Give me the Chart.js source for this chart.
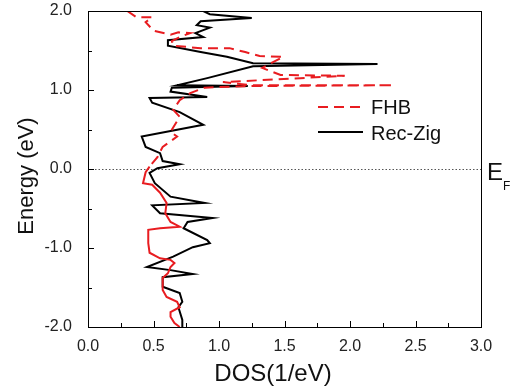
<!DOCTYPE html>
<html>
<head>
<meta charset="utf-8">
<script src="https://cdn.jsdelivr.net/npm/chart.js@4"></script>
<style>
  body { margin: 0; background: #fff; }
  #wrap { width: 517px; height: 390px; position: relative; }
</style>
</head>
<body>
<div id="wrap"><canvas id="chart"></canvas></div>
<script>
'use strict';

// values (energy in eV, DOS in 1/eV)
const fhbEnergy = [2.0, 1.92, 1.92, 1.86, 1.75, 1.70, 1.73, 1.72, 1.67, 1.62, 1.56, 1.53, 1.53, 1.48, 1.43,
  1.42, 1.28, 1.19, 1.18, 1.15, 1.10, 1.06, 1.06, 1.05, 1.03, 0.96, 0.87, 0.75, 0.66, 0.47,
  0.41, 0.28, 0.15, 0.03, -0.04, -0.18, -0.20, -0.30, -0.43, -0.56, -0.67, -0.73, -0.75, -0.77, -0.94,
  -1.06, -1.13, -1.15, -1.19, -1.24, -1.32, -1.38, -1.53, -1.62, -1.68, -1.75, -1.81, -1.87, -1.95, -2.0];
const fhbDos = [0.30, 0.37, 0.49, 0.44, 0.50, 0.63, 0.69, 0.78, 0.70, 0.64, 0.65, 0.86, 1.08, 1.20, 1.31,
  1.49, 1.33, 1.47, 1.96, 1.62, 1.03, 1.24, 2.33, 1.24, 0.89, 0.78, 0.70, 0.65, 0.70, 0.63,
  0.68, 0.57, 0.53, 0.47, 0.44, 0.42, 0.49, 0.55, 0.60, 0.59, 0.63, 0.70, 0.55, 0.46, 0.46,
  0.47, 0.55, 0.63, 0.66, 0.63, 0.61, 0.57, 0.57, 0.60, 0.68, 0.70, 0.63, 0.63, 0.66, 0.70];

const recZigEnergy = [2.0, 1.96, 1.91, 1.87, 1.82, 1.79, 1.72, 1.67, 1.63, 1.56, 1.48, 1.42, 1.34, 1.33, 1.30,
  1.15, 1.06, 1.05, 1.03, 0.98, 0.91, 0.90, 0.84, 0.72, 0.56, 0.41, 0.28, 0.20, 0.10, 0.06,
  0.01, -0.05, -0.18, -0.35, -0.43, -0.46, -0.56, -0.62, -0.67, -0.75, -0.90, -0.94, -0.99, -1.11, -1.24,
  -1.28, -1.33, -1.37, -1.49, -1.57, -1.68, -1.75, -1.91, -2.0];
const recZigDos = [0.88, 0.93, 1.25, 0.86, 0.83, 0.93, 0.82, 0.88, 0.61, 0.61, 0.86, 1.06, 1.26, 2.21, 1.26,
  0.91, 0.68, 1.22, 0.64, 0.63, 0.91, 0.47, 0.49, 0.70, 0.88, 0.41, 0.44, 0.55, 0.57, 0.70,
  0.53, 0.47, 0.51, 0.63, 0.89, 0.49, 0.55, 0.95, 0.76, 0.73, 0.91, 0.93, 0.80, 0.65, 0.45,
  0.63, 0.80, 0.57, 0.57, 0.70, 0.72, 0.69, 0.72, 0.72];

const xTickValues = [0, 0.5, 1.0, 1.5, 2.0, 2.5, 3.0];
const yTickValues = [-2, -1, 0, 1, 2];

const RED = 'rgb(232, 28, 32)';
const FONT = 'Liberation Sans, Arial, sans-serif';

function toPoints(xs, ys) {
  return xs.map((x, i) => ({ x: x, y: ys[i] }));
}

// frame, inward ticks, Fermi line, legend and titles
const decorations = {
  id: 'decorations',
  beforeDatasetsDraw(chart) {
    const { ctx, chartArea: a, scales: { y } } = chart;
    const y0 = y.getPixelForValue(0);
    ctx.save();
    ctx.strokeStyle = '#555';
    ctx.lineWidth = 1;
    ctx.setLineDash([1.5, 2]);
    ctx.beginPath();
    ctx.moveTo(a.left, Math.round(y0) + 0.5);
    ctx.lineTo(a.right, Math.round(y0) + 0.5);
    ctx.stroke();
    ctx.restore();
  },
  afterDraw(chart) {
    const { ctx, chartArea: a, scales: { x, y } } = chart;
    ctx.save();
    ctx.strokeStyle = '#000';
    ctx.lineWidth = 1;
    ctx.strokeRect(a.left + 0.5, a.top + 0.5, a.right - a.left, a.bottom - a.top);

    ctx.beginPath();
    xTickValues.forEach((v, i) => {
      const px = Math.round(x.getPixelForValue(v)) + 0.5;
      ctx.moveTo(px, a.bottom); ctx.lineTo(px, a.bottom - 6);
      if (i < xTickValues.length - 1) {
        const mx = Math.round(x.getPixelForValue((v + xTickValues[i + 1]) / 2)) + 0.5;
        ctx.moveTo(mx, a.bottom); ctx.lineTo(mx, a.bottom - 4);
      }
    });
    yTickValues.forEach((v, i) => {
      const py = Math.round(y.getPixelForValue(v)) + 0.5;
      ctx.moveTo(a.left, py); ctx.lineTo(a.left + 6, py);
      if (i < yTickValues.length - 1) {
        const my = Math.round(y.getPixelForValue((v + yTickValues[i + 1]) / 2)) + 0.5;
        ctx.moveTo(a.left, my); ctx.lineTo(a.left + 4, my);
      }
    });
    ctx.stroke();

    // legend
    ctx.lineWidth = 2;
    ctx.strokeStyle = RED;
    ctx.setLineDash([10, 6]);
    ctx.beginPath(); ctx.moveTo(318, 107); ctx.lineTo(363, 107); ctx.stroke();
    ctx.setLineDash([]);
    ctx.strokeStyle = '#000';
    ctx.beginPath(); ctx.moveTo(318, 132); ctx.lineTo(363, 132); ctx.stroke();

    ctx.fillStyle = '#111';
    ctx.textBaseline = 'alphabetic';
    ctx.textAlign = 'left';
    ctx.font = '20px ' + FONT;
    ctx.fillText('FHB', 371, 114);
    ctx.fillText('Rec-Zig', 371, 140);

    // E_F
    ctx.font = '24px ' + FONT;
    ctx.fillText('E', 487, 180);
    ctx.font = '12px ' + FONT;
    ctx.fillText('F', 503, 190);

    // axis titles
    ctx.font = '24px ' + FONT;
    ctx.textAlign = 'center';
    ctx.fillText('DOS(1/eV)', 273, 381);
    ctx.translate(33, 176);
    ctx.rotate(-Math.PI / 2);
    ctx.font = '22px ' + FONT;
    ctx.fillText('Energy (eV)', 0, 0);
    ctx.restore();
  }
};

new Chart(document.getElementById('chart'), {
  type: 'scatter',
  data: {
    datasets: [{
      label: 'FHB',
      data: toPoints(fhbDos, fhbEnergy),
      showLine: true,
      borderColor: RED,
      borderWidth: 2,
      pointRadius: 0,
      segment: {
        borderDash: ctx => ctx.p0.parsed.y > 0.1 ? [10, 6] : undefined
      }
    }, {
      label: 'Rec-Zig',
      data: toPoints(recZigDos, recZigEnergy),
      showLine: true,
      borderColor: '#000',
      borderWidth: 2,
      pointRadius: 0
    }]
  },
  options: {
    responsive: true,
    maintainAspectRatio: false,
    animation: false,
    layout: { padding: { left: 0, top: 11, right: 36, bottom: 0 } },
    plugins: { legend: { display: false }, tooltip: { enabled: false } },
    scales: {
      x: {
        type: 'linear',
        min: 0,
        max: 3,
        afterBuildTicks: s => { s.ticks = xTickValues.map(v => ({ value: v })); },
        afterFit: s => { s.height = 63; s.paddingLeft = 0; s.paddingRight = 0; },
        grid: { display: false },
        border: { display: false },
        ticks: {
          padding: 2,
          color: '#222',
          font: { family: FONT, size: 16 },
          callback: v => Number(v).toFixed(1)
        }
      },
      y: {
        type: 'linear',
        min: -2,
        max: 2,
        afterBuildTicks: s => { s.ticks = yTickValues.map(v => ({ value: v })); },
        afterFit: s => { s.width = 88; s.paddingTop = 0; s.paddingBottom = 0; },
        grid: { display: false },
        border: { display: false },
        ticks: {
          padding: 8,
          color: '#222',
          font: { family: FONT, size: 16 },
          callback: v => Number(v).toFixed(1)
        }
      }
    }
  },
  plugins: [decorations]
});
</script>
</body>
</html>
